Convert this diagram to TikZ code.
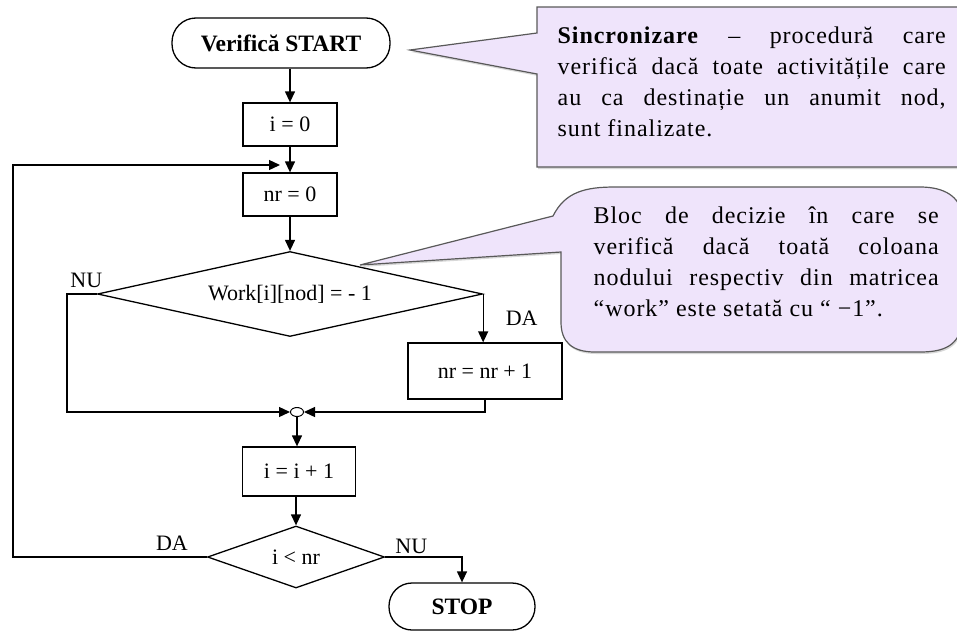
\documentclass[tikz,border=0pt]{standalone}
\usepackage{fontspec}
\setmainfont{Liberation Serif}
\newfontfamily\notefont[LetterSpace=4]{Liberation Serif}
\usepackage{tikz}
\usetikzlibrary{arrows.meta,shapes.geometric,shadows}
\definecolor{notefill}{HTML}{EFE4FB}
\hyphenpenalty=10000
\exhyphenpenalty=10000

\begin{document}
\begin{tikzpicture}[x=1pt,y=-1pt,>={Triangle[length=11pt,width=10pt]},line width=1.3pt]
  \tikzstyle{block}=[draw,rectangle,inner sep=0pt,font=\fontsize{22}{26}\selectfont]
  \tikzstyle{term}=[block,rounded corners=24pt,font=\fontsize{23.5}{27}\selectfont\bfseries]
  \tikzstyle{test}=[block,diamond,aspect=4]
  \tikzstyle{lbl}=[inner sep=0pt,font=\fontsize{22}{26}\selectfont]
  \tikzstyle{note}=[draw=black!65,fill=notefill,line width=1.2pt,drop shadow={shadow xshift=1pt,shadow yshift=-2pt,fill=black!30}]
  \tikzstyle{notetext}=[inner sep=0pt,anchor=north west,align=justify,font=\notefont\fontsize{24}{31}\selectfont]

  \useasboundingbox (0,0) rectangle (957,632);

  % Main column
  \node[term,minimum width=218,minimum height=50] (start) at (281,43) {Verifică START};
  \node[block,minimum width=94,minimum height=43] (i0) at (290,124.5) {i = 0};
  \node[block,minimum width=94,minimum height=43] (nr0) at (290,194.5) {nr = 0};
  \node[test,minimum width=385,minimum height=85] (work) at (290,294) {Work[i][nod] = - 1};
  \node[block,minimum width=154,minimum height=56] (nr1) at (485,371) {nr = nr + 1};
  \node[draw,ellipse,minimum width=13,minimum height=9,inner sep=0pt,line width=1pt] (merge) at (297,412) {};
  \node[block,minimum width=113,minimum height=49] (inc) at (299,471.5) {i = i + 1};
  \node[test,minimum width=177,minimum height=62] (test) at (296,557) {i < nr};
  \node[term,minimum width=146,minimum height=47,rounded corners=23pt] (stop) at (462,606.5) {STOP};

  % Loop return
  \coordinate (back) at (13,165);
  \coordinate (loopin) at (280,165);

  % Arrows
  \draw[->] (start.south -| i0) -- (i0);
  \draw[->] (i0) -- (nr0);
  \draw[->] (nr0.south) -- (work.north);
  \draw[->] (work.west) -- ++(-30,0) node[lbl,pos=0.35,above=6pt] {NU} |- (merge.west);
  \draw[->] (work.east) -- node[lbl,midway,right=22pt] {DA} (work.east |- nr1.north);
  \draw[->] (nr1.south) |- (merge.east);
  \draw[->] (merge.south) -- (merge.south |- inc.north);
  \draw[->] (inc.south -| test.north) -- (test.north);
  \draw[->] (test.east) -| node[lbl,pos=0.17,above=3pt] {NU} (stop.north);
  \draw[->] (test.west) -| node[lbl,pos=0.09,above=6pt] {DA} (back) -- (loopin);

  % Synchronisation note
  \draw[note] (537,7) -- (960,7) -- (960,167) -- (537,167) -- (537,74) -- (410,50) -- (537,33) -- cycle;
  \node[notetext,text width=388] (synctext) at (557,26) {\textbf{Sincronizare} – procedură care\linebreak verifică dacă toate activitățile care\linebreak au ca destinație un anumit nod,\linebreak sunt finalizate.};

  % Decision note
  \draw[note] (360,265) -- (553,216) .. controls (565,192) and (585,187) .. (615,187) -- (920,187)
    .. controls (945,187) and (960,197) .. (962,215) -- (962,325) .. controls (958,345) and (945,352) .. (920,352)
    -- (595,352) .. controls (572,352) and (561,342) .. (561,322) -- (561,252) -- cycle;
  \node[notetext,text width=345] (decitext) at (593,206) {Bloc de decizie în care se\linebreak verifică dacă toată coloana\linebreak nodului respectiv din matricea\linebreak “work” este setată cu “ −1”.};

\end{tikzpicture}
\end{document}
